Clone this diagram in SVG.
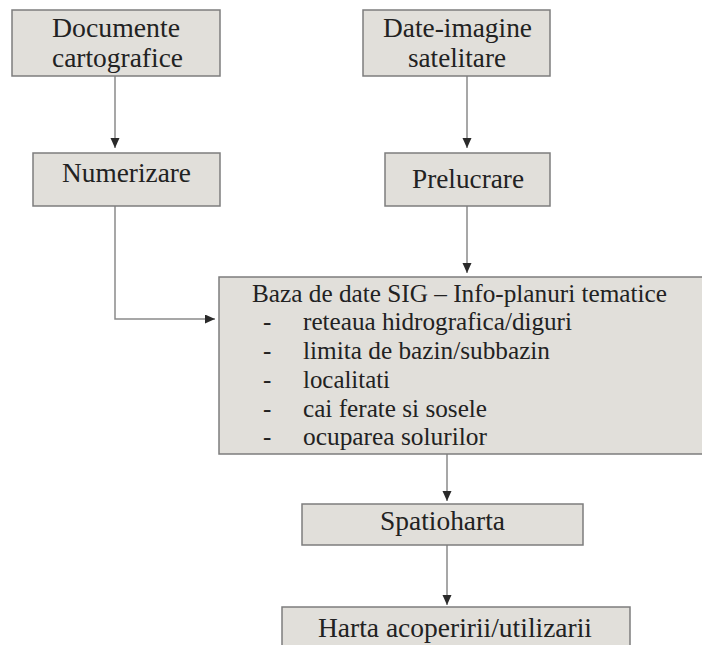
<svg xmlns="http://www.w3.org/2000/svg" width="702" height="645" viewBox="0 0 702 645">
<style>
.box{fill:#e1dfda;stroke:#7d7d7d;stroke-width:1.5}
.t{font-family:'Liberation Serif','DejaVu Serif',serif;fill:#222;font-size:27px}
.s{font-size:25px}
.c{text-anchor:middle}
.ln{fill:none;stroke:#8a8a8a;stroke-width:1.5}
</style>
<defs>
<marker id="ah" markerUnits="userSpaceOnUse" markerWidth="11" markerHeight="10" refX="10" refY="4.5" orient="auto">
<path d="M0,0 L10,4.5 L0,9 z" fill="#2a2a2a"/>
</marker>
</defs>
<rect width="702" height="645" fill="#ffffff"/>
<g id="connectors">
<line class="ln" x1="115" y1="76" x2="115" y2="148" marker-end="url(#ah)"/>
<line class="ln" x1="467" y1="76" x2="467" y2="148" marker-end="url(#ah)"/>
<polyline class="ln" points="115,206 115,319 215,319" marker-end="url(#ah)"/>
<line class="ln" x1="467" y1="206" x2="467" y2="273" marker-end="url(#ah)"/>
<line class="ln" x1="447" y1="454" x2="447" y2="501" marker-end="url(#ah)"/>
<line class="ln" x1="447" y1="545" x2="447" y2="605" marker-end="url(#ah)"/>
</g>
<g id="documente">
<rect class="box" x="12" y="10" width="208" height="66"/>
<text class="t" x="52" y="37" textLength="128" lengthAdjust="spacingAndGlyphs">Documente</text>
<text class="t" x="52" y="67" textLength="131" lengthAdjust="spacingAndGlyphs">cartografice</text>
</g>
<g id="date-imagine">
<rect class="box" x="363" y="10" width="187" height="66"/>
<text class="t" x="383" y="37" textLength="149" lengthAdjust="spacingAndGlyphs">Date-imagine</text>
<text class="t" x="408" y="67" textLength="98" lengthAdjust="spacingAndGlyphs">satelitare</text>
</g>
<g id="numerizare">
<rect class="box" x="33" y="153" width="187" height="53"/>
<text class="t" x="62" y="182" textLength="129" lengthAdjust="spacingAndGlyphs">Numerizare</text>
</g>
<g id="prelucrare">
<rect class="box" x="385" y="153" width="165" height="53"/>
<text class="t" x="412" y="188" textLength="112" lengthAdjust="spacingAndGlyphs">Prelucrare</text>
</g>
<g id="baza-sig">
<rect class="box" x="219" y="277" width="486" height="177"/>
<text class="t s" x="252" y="302" textLength="415" lengthAdjust="spacingAndGlyphs">Baza de date SIG – Info-planuri tematice</text>
<text class="t s" x="263" y="330">-</text>
<text class="t s" x="303" y="330" textLength="269" lengthAdjust="spacingAndGlyphs">reteaua hidrografica/diguri</text>
<text class="t s" x="263" y="359">-</text>
<text class="t s" x="303" y="359" textLength="247" lengthAdjust="spacingAndGlyphs">limita de bazin/subbazin</text>
<text class="t s" x="263" y="388">-</text>
<text class="t s" x="303" y="388" textLength="87" lengthAdjust="spacingAndGlyphs">localitati</text>
<text class="t s" x="263" y="417">-</text>
<text class="t s" x="303" y="417" textLength="184" lengthAdjust="spacingAndGlyphs">cai ferate si sosele</text>
<text class="t s" x="263" y="445">-</text>
<text class="t s" x="303" y="445" textLength="184" lengthAdjust="spacingAndGlyphs">ocuparea solurilor</text>
</g>
<g id="spatioharta">
<rect class="box" x="302" y="504" width="281" height="41"/>
<text class="t c" x="442.5" y="530" textLength="125" lengthAdjust="spacingAndGlyphs">Spatioharta</text>
</g>
<g id="harta">
<rect class="box" x="282" y="607" width="348" height="45"/>
<text class="t c" x="455" y="637" textLength="274" lengthAdjust="spacingAndGlyphs">Harta acoperirii/utilizarii</text>
</g>
</svg>
